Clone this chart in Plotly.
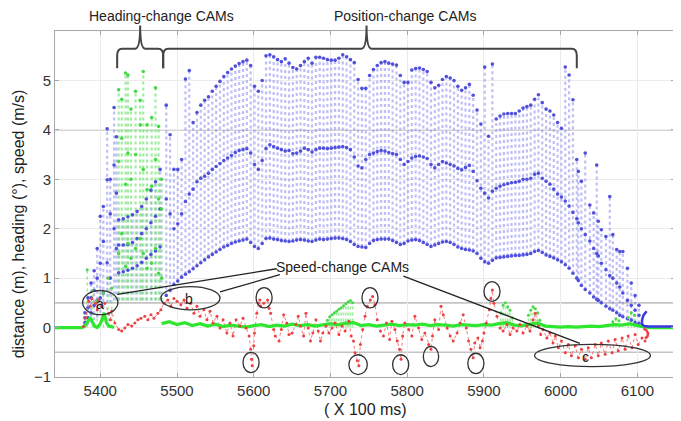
import plotly.graph_objects as go

# ---------------- data ----------------
# position-change CAMs (blue): sample positions and three distance levels
pos_x = list(range(5486, 6022, 5))
pos_top = [4.50, 3.90, 3.20, 3.20, 3.40, 5.03, 5.20, 4.15, 4.35, 4.50,
           4.60, 4.67, 4.78, 4.88, 4.98, 5.08, 5.16, 5.23, 5.29, 5.34,
           5.38, 5.41, 5.30, 4.88, 4.78, 5.00, 5.50, 5.52, 5.48, 5.42,
           5.38, 5.44, 5.35, 5.26, 5.23, 5.30, 5.38, 5.45, 5.35, 5.47,
           5.47, 5.45, 5.42, 5.41, 5.41, 5.45, 5.52, 5.48, 5.42, 5.36,
           5.02, 4.84, 4.84, 5.10, 5.22, 5.30, 5.36, 5.38, 5.35, 5.33,
           5.31, 5.10, 4.96, 4.96, 5.21, 5.24, 5.25, 5.22, 5.18, 4.96,
           4.85, 4.90, 5.02, 5.08, 5.05, 5.00, 4.88, 4.80, 4.85, 4.92,
           4.70, 4.40, 4.12, 5.27, 3.87, 5.33, 4.22, 4.28, 4.32, 4.33,
           4.33, 4.33, 4.38, 4.44, 4.47, 4.50, 4.62, 4.71, 4.55, 4.42,
           4.38, 4.30, 4.15, 4.03, 5.27, 5.11, 4.61, 3.40]
pos_mid = [2.60, 2.30, 2.00, 2.10, 2.30, 2.55, 2.70, 2.80, 2.95, 3.02,
           3.06, 3.12, 3.20, 3.26, 3.32, 3.38, 3.43, 3.48, 3.54, 3.58,
           3.60, 3.62, 3.53, 3.30, 3.20, 3.38, 3.62, 3.70, 3.66, 3.63,
           3.60, 3.57, 3.58, 3.52, 3.53, 3.57, 3.63, 3.60, 3.55, 3.60,
           3.63, 3.63, 3.62, 3.63, 3.64, 3.65, 3.66, 3.64, 3.60, 3.45,
           3.27, 3.23, 3.40, 3.50, 3.53, 3.56, 3.58, 3.57, 3.54, 3.52,
           3.50, 3.40, 3.30, 3.36, 3.43, 3.46, 3.47, 3.45, 3.42, 3.30,
           3.23, 3.30, 3.36, 3.33, 3.30, 3.27, 3.22, 3.19, 3.24, 3.28,
           3.16, 2.97, 2.82, 2.72, 2.62, 2.76, 2.82, 2.86, 2.89, 2.91,
           2.93, 2.94, 2.96, 3.00, 3.00, 3.02, 3.10, 3.12, 3.02, 2.96,
           2.90, 2.80, 2.70, 2.64, 2.56, 2.46, 2.33, 2.20]
pos_bot = [0.65, 0.75, 0.87, 0.94, 1.02, 1.08, 1.13, 1.19, 1.25, 1.31,
           1.37, 1.43, 1.48, 1.53, 1.58, 1.63, 1.66, 1.70, 1.73, 1.75,
           1.77, 1.79, 1.72, 1.64, 1.60, 1.70, 1.80, 1.81, 1.79, 1.78,
           1.76, 1.75, 1.74, 1.75, 1.77, 1.78, 1.77, 1.75, 1.74, 1.77,
           1.79, 1.78, 1.79, 1.80, 1.81, 1.81, 1.80, 1.78, 1.74, 1.68,
           1.64, 1.63, 1.62, 1.70, 1.76, 1.78, 1.79, 1.79, 1.79, 1.76,
           1.72, 1.68, 1.70, 1.75, 1.77, 1.78, 1.76, 1.72, 1.68, 1.64,
           1.67, 1.70, 1.73, 1.74, 1.72, 1.68, 1.63, 1.60, 1.58, 1.57,
           1.55, 1.50, 1.40, 1.33, 1.30, 1.36, 1.41, 1.42, 1.43, 1.44,
           1.45, 1.46, 1.46, 1.47, 1.48, 1.50, 1.54, 1.56, 1.52, 1.47,
           1.44, 1.41, 1.37, 1.33, 1.27, 1.20, 1.10, 1.00]

# tail of the run (blue, after the position-change bracket)
tail_x = [6023, 6027, 6032, 6038, 6043, 6047, 6049, 6053, 6059, 6064,
          6068, 6073, 6077, 6081, 6087, 6092, 6097, 6102]
tail_top = [3.16, 2.96, 3.53, 2.48, 2.32, 3.29, 2.15, 1.98, 1.84, 2.65,
            1.88, 1.58, 1.54, 1.54, 1.20, 0.90, 0.65, 0.45]
tail_mid = [2.12, 2.00, 1.88, 1.75, 1.60, 1.50, 1.45, 1.30, 1.17, 1.05,
            1.00, 0.90, 0.82, 0.70, 0.55, 0.45, 0.35, 0.25]
tail_bot = [0.95, 0.85, 0.77, 0.70, 0.62, 0.57, 0.55, 0.50, 0.43, 0.38,
            0.35, 0.30, 0.25, 0.22, 0.18, 0.15, 0.10, 0.08]

# start of the run (blue)
early_x = [5380, 5384, 5388, 5392, 5396, 5400, 5404, 5409, 5413, 5418, 5421]
early_top = [0.30, 0.60, 0.90, 1.15, 1.60, 2.25, 2.45, 4.02, 3.00, 4.45, 3.86]
early_mid = [0.20, 0.40, 0.60, 0.75, 1.00, 1.30, 1.74, 2.99, 2.30, 3.29, 2.72]
early_low = [0.10, 0.20, 0.30, 0.45, 0.55, 0.60, 0.70, 1.31, 1.00, 2.00, 1.60]
early_base = [0.02, 0.05, 0.10, 0.15, 0.20, 0.30, 0.40, 0.50, 0.50, 0.55, 0.55]

# heading-change CAMs (green) and blue distances inside that window
head_x = [5424, 5428, 5433, 5436, 5440, 5446, 5452, 5456, 5461, 5467, 5472, 5476, 5480]
head_top = [4.81, 4.62, 5.15, 5.11, 4.42, 4.78, 4.60, 5.18, 4.10, 4.25, 4.85, 4.07, 3.00]
head_mid = [3.36, 3.83, 2.90, 3.53, 3.00, 3.50, 4.10, 3.20, 2.79, 2.86, 3.40, 2.60, 2.40]
head_low = [1.50, 1.90, 1.24, 1.70, 1.40, 1.60, 1.80, 1.50, 1.20, 1.30, 1.60, 1.10, 1.00]
head_base = [0.55] * 13
hb_x = [5424, 5430, 5436, 5442, 5448, 5454, 5460, 5466, 5472, 5478]
hb_a = [2.18, 2.20, 2.24, 2.28, 2.35, 2.45, 2.60, 2.78, 2.95, 3.20]
hb_b = [1.67, 1.67, 1.68, 1.72, 1.80, 1.90, 2.00, 2.12, 2.25, 2.40]
hb_c = [1.11, 1.13, 1.16, 1.20, 1.25, 1.32, 1.40, 1.48, 1.55, 1.63]
hb_base = [0.55] * 10

# heading (green) near zero
gl_x = [5341, 5376, 5380, 5384, 5387, 5390, 5393, 5396, 5399, 5402, 5405,
        5408, 5411, 5414, 5418, None] + list(range(5480, 6151, 10))
gl_y = [0.00, 0.00, 0.03, 0.12, 0.20, 0.10, 0.02, 0.00, 0.05, 0.15, 0.30,
        0.10, 0.03, 0.02, 0.00, None,
        0.08, 0.12, 0.06, 0.10, 0.04, 0.08, 0.03, 0.07, 0.02, 0.05,
        0.03, 0.01, 0.04, 0.06, 0.02, 0.05, 0.03, 0.07, 0.04, 0.06,
        0.03, 0.05, 0.08, 0.06, 0.09, 0.10, 0.04, 0.06, 0.03, 0.05,
        0.07, 0.04, 0.06, 0.05, 0.07, 0.04, 0.06, 0.05, 0.03, 0.06,
        0.05, 0.04, 0.06, 0.05, 0.08, 0.10, 0.05, 0.04, 0.07, 0.09,
        0.03, 0.02, 0.01, 0.02, 0.01, 0.02, 0.03, 0.02, 0.04, 0.06,
        0.05, 0.08, 0.04, 0.01, 0.00, 0.00, 0.00, 0.00]
gs_x = [5383, 5390, 5396, 5404, 5410, 5415,
        5696, 5699, 5702, 5705, 5708, 5711, 5714, 5717, 5720, 5723, 5726, 5729,
        5922, 5925, 5928, 5931, 5934, 5937,
        5958, 5961, 5964, 5967, 5970, 5973,
        6068, 6072, 6076, 6088, 6092, 6096]
gs_top = [1.17, 0.75, 0.55, 0.70, 1.00, 0.80,
          0.15, 0.22, 0.26, 0.30, 0.33, 0.37, 0.40, 0.44, 0.48, 0.52, 0.55, 0.50,
          0.30, 0.45, 0.50, 0.42, 0.35, 0.20,
          0.25, 0.35, 0.42, 0.38, 0.30, 0.15,
          0.12, 0.18, 0.14, 0.20, 0.30, 0.25]

# speed (red)
red_x = [5378, 5381, 5385, 5387, 5389, 5394, 5396, 5398, 5402, 5406, 5411, 5413, 5415,
         5419, 5424, 5428, 5432, 5436, 5441, 5445, 5449, 5453, 5458, 5462, 5466, 5470, 5475, 5479,
         5483, 5488, 5492, 5496, 5500, 5505, 5509, 5513, 5518, 5522, 5526, 5530, 5535, 5539, 5543, 5547,
         5552, 5556, 5560, 5565, 5569, 5573, 5577, 5582, 5586, 5590,
         5594, 5596, 5597, 5598, 5600, 5601, 5604, 5606, 5608, 5609,
         5613, 5618, 5620, 5622, 5626, 5628, 5633, 5636, 5639, 5643, 5646, 5650, 5655, 5658, 5661,
         5665, 5668, 5671, 5674, 5677, 5681, 5684, 5687, 5690, 5694, 5698, 5702, 5706, 5711, 5715,
         5719, 5724, 5727, 5730, 5732, 5735, 5737, 5739, 5742, 5745, 5748, 5752, 5755, 5758, 5761,
         5765, 5769, 5773, 5777, 5780, 5784, 5787, 5790, 5792, 5794, 5797, 5802, 5806, 5810, 5815,
         5819, 5823, 5828, 5831, 5833, 5836, 5841, 5844, 5847, 5852, 5856, 5860, 5865, 5869, 5873, 5877,
         5880, 5883, 5886, 5888, 5892, 5895, 5898, 5900, 5903, 5907, 5909, 5911, 5913, 5917, 5921,
         5925, 5930, 5934, 5938, 5943, 5947, 5951, 5956, 5960, 5964, 5967, 5971, 5974, 5977, 5982,
         5986, 5990, 5993, 5997, 6001, 6006, 6010, 6014, 6019, 6023, 6027, 6032, 6036, 6040, 6045,
         6049, 6053, 6058, 6062, 6067, 6071, 6075, 6080, 6084, 6088, 6093, 6097, 6101, 6106, 6110]
red_y = [0.02, 0.20, 0.53, 0.43, 0.59, 0.49, 0.36, 0.56, 0.43, 0.49, 0.29, 0.16, 0.33,
         0.09, -0.04, -0.07, -0.01, 0.06, 0.03, 0.09, 0.16, 0.19, 0.23, 0.16, 0.26, 0.19, 0.29, 0.36,
         0.49, 0.56, 0.43, 0.59, 0.53, 0.46, 0.56, 0.39, 0.49, 0.29, 0.43, 0.23, 0.36, 0.16, 0.33, 0.09,
         0.23, -0.01, 0.16, -0.11, 0.09, -0.17, 0.16, 0.03, 0.19, -0.01,
         -0.17, -0.44, -0.64, -0.77, -0.37, -0.11, 0.29, 0.49, 0.56, 0.43,
         0.49, 0.56, 0.39, 0.29, -0.04, -0.17, -0.27, -0.04, 0.26, 0.09, -0.14, -0.11, 0.06, 0.23, 0.03,
         -0.17, 0.29, -0.01, -0.27, -0.11, 0.16, -0.07, -0.27, -0.11, 0.03, -0.11, -0.01, 0.09, -0.14, 0.03,
         -0.07, 0.13, -0.17, -0.27, -0.51, -0.67, -0.77, -0.34, -0.04, 0.23, 0.43, 0.56, 0.63, 0.46, 0.16,
         -0.07, -0.17, 0.09, -0.24, 0.13, -0.04, -0.27, -0.44, -0.64, -0.17, 0.09, -0.04, -0.17, 0.23, -0.01,
         -0.24, -0.11, -0.34, -0.44, -0.17, 0.16, -0.04, 0.43, 0.26, -0.01, -0.17, -0.27, -0.11, 0.09, 0.26, -0.01,
         -0.27, -0.44, -0.61, -0.31, -0.21, -0.41, -0.27, -0.11, 0.09, 0.36, 0.59, 0.76, 0.49, 0.23, -0.01,
         -0.07, 0.06, -0.14, -0.01, -0.07, 0.06, -0.11, 0.03, -0.07, 0.16, 0.29, 0.03, -0.14, -0.04, -0.21,
         -0.11, -0.31, -0.17, -0.41, -0.27, -0.51, -0.34, -0.57, -0.37, -0.61, -0.44, -0.64, -0.41, -0.61, -0.34,
         -0.57, -0.31, -0.54, -0.27, -0.51, -0.24, -0.47, -0.21, -0.44, -0.17, -0.41, -0.14, -0.34, -0.21, -0.27]

# end hooks
bh_x = [6112, 6108, 6106, 6106, 6109, 6114, 6150]
bh_y = [0.33, 0.25, 0.15, 0.07, 0.03, 0.02, 0.02]
rh_x = [6108, 6112, 6114, 6113, 6110]
rh_y = [-0.02, -0.06, -0.12, -0.18, -0.22]

# thresholds
thr_heading = 4.0
thr_speed = [0.5, -0.5]

x_ticks = [5400, 5500, 5600, 5700, 5800, 5900, 6000, 6100]
y_ticks = [-1, 0, 1, 2, 3, 4, 5]
XR = [5341, 6149]
YR = [-1, 6]

# ---------------- styling helpers ----------------
BLUE = "#5050dc"
BLUE_STEM = "rgba(128,128,240,0.5)"
GREEN = "#46d846"
GREEN_STEM = "rgba(110,226,110,0.65)"
RED = "#ee4040"
FONT = "Liberation Sans, Arial, sans-serif"


def stems(xs, lo, hi):
    X, Y = [], []
    for x, a, b in zip(xs, lo, hi):
        X += [x, x, None]
        Y += [a, b, None]
    return X, Y


fig = go.Figure()


def add_stems(xs, lo, hi, color, width=2.2):
    X, Y = stems(xs, lo, hi)
    fig.add_trace(go.Scatter(x=X, y=Y, mode="lines",
                             line=dict(color=color, width=width, dash="dot"),
                             hoverinfo="skip", showlegend=False))


def add_marks(xs, ys, color, size=3.6):
    fig.add_trace(go.Scatter(x=xs, y=ys, mode="markers",
                             marker=dict(color=color, size=size),
                             hoverinfo="skip", showlegend=False))


# blue stems
add_stems(early_x, early_base, early_top, BLUE_STEM)
add_stems(hb_x, hb_base, hb_a, BLUE_STEM)
add_stems(pos_x, pos_bot, pos_top, BLUE_STEM)
add_stems(tail_x, tail_bot, tail_top, BLUE_STEM)
# green heading stems
add_stems(head_x, head_base, head_top, GREEN_STEM)
add_stems(gs_x, [0] * len(gs_x), gs_top, GREEN_STEM, 1.6)

# blue markers
for ys in (early_top, early_mid, early_low):
    add_marks(early_x, ys, BLUE)
for ys in (hb_a, hb_b, hb_c):
    add_marks(hb_x, ys, BLUE)
for ys in (pos_top, pos_mid, pos_bot):
    add_marks(pos_x, ys, BLUE)
for ys in (tail_top, tail_mid, tail_bot):
    add_marks(tail_x, ys, BLUE)
# green markers
for ys in (head_top, head_mid, head_low):
    add_marks(head_x, ys, GREEN)
add_marks(gs_x, gs_top, GREEN, 3)

# red speed: dotted connections, green heading line, red markers
fig.add_trace(go.Scatter(x=red_x, y=red_y, mode="lines",
                         line=dict(color="rgba(238,70,70,0.7)", width=1, dash="dot"),
                         hoverinfo="skip", showlegend=False))
fig.add_trace(go.Scatter(x=gl_x, y=gl_y, mode="lines",
                         line=dict(color="#2ee62e", width=3.2),
                         hoverinfo="skip", showlegend=False))
add_marks(red_x, red_y, RED, 3)
fig.add_trace(go.Scatter(x=bh_x, y=bh_y, mode="lines",
                         line=dict(color="#3a3ae0", width=2.5),
                         hoverinfo="skip", showlegend=False))
fig.add_trace(go.Scatter(x=rh_x, y=rh_y, mode="lines",
                         line=dict(color=RED, width=2.5),
                         hoverinfo="skip", showlegend=False))

# threshold lines
fig.add_shape(type="line", xref="paper", x0=0, x1=1, yref="y",
              y0=thr_heading, y1=thr_heading, line=dict(color="#8a8a8a", width=1), layer="below")
for t in thr_speed:
    fig.add_shape(type="line", xref="paper", x0=0, x1=1, yref="y",
                  y0=t, y1=t, line=dict(color="#c4c4c4", width=1.6), layer="below")


# ---------------- annotations ----------------
def px_(x):
    return (x - XR[0]) / (XR[1] - XR[0])


def brace(xa, xp, xb, y_end, y_h, y_peak, r=0.008, rv=0.02):
    a, p, b = px_(xa), px_(xp), px_(xb)
    return (f"M {a},{y_end} L {a},{y_h - rv} Q {a},{y_h} {a + r},{y_h} "
            f"L {p - r},{y_h} Q {p},{y_h} {p},{y_peak} "
            f"Q {p},{y_h} {p + r},{y_h} L {b - r},{y_h} Q {b},{y_h} {b},{y_h - rv} L {b},{y_end}")


BR_COL = "#444444"
fig.add_shape(type="path", xref="paper", yref="paper",
              path=brace(5422, 5452, 5482, 0.892, 0.949, 1.016),
              line=dict(color=BR_COL, width=2))
fig.add_shape(type="path", xref="paper", yref="paper",
              path=brace(5482, 5747, 6021, 0.892, 0.949, 1.016, r=0.008),
              line=dict(color=BR_COL, width=2))

fig.add_annotation(x=5480, xref="x", y=1.042, yref="paper", text="Heading-change CAMs",
                   showarrow=False, xanchor="center", yanchor="middle",
                   font=dict(family=FONT, size=14, color="#222"))
fig.add_annotation(x=5797, xref="x", y=1.042, yref="paper", text="Position-change CAMs",
                   showarrow=False, xanchor="center", yanchor="middle",
                   font=dict(family=FONT, size=14, color="#222"))
fig.add_annotation(x=5716, y=1.23, text="Speed-change CAMs", showarrow=False,
                   xanchor="center", yanchor="middle",
                   font=dict(family=FONT, size=14, color="#222"))

# leader lines from the Speed-change label
for (x0, y0, x1, y1) in [(5630, 1.19, 5422, 0.67), (5634, 1.07, 5556, 0.72),
                         (5795, 1.04, 6025, -0.32)]:
    fig.add_shape(type="line", x0=x0, y0=y0, x1=x1, y1=y1,
                  line=dict(color="#222", width=1.3))

# ellipses a, b, c and small circles
for (x0, x1, y0, y1) in [(5377, 5423, 0.26, 0.75), (5479, 5556, 0.36, 0.83),
                         (5966, 6117, -0.79, -0.34),
                         (5603, 5624, 0.40, 0.81), (5586, 5607, -0.91, -0.50),
                         (5724, 5748, -0.95, -0.55), (5741, 5762, 0.40, 0.81),
                         (5781, 5802, -0.95, -0.55), (5821, 5841, -0.79, -0.38),
                         (5879, 5900, -0.93, -0.52), (5900, 5921, 0.53, 0.93)]:
    fig.add_shape(type="circle", x0=x0, x1=x1, y0=y0, y1=y1,
                  line=dict(color="#333", width=1.3))
for (x, y, t) in [(5400, 0.47, "a"), (5515, 0.58, "b"), (6033, -0.6, "c")]:
    fig.add_annotation(x=x, y=y, text=t, showarrow=False, xanchor="center", yanchor="middle",
                       font=dict(family=FONT, size=14, color="#222"))

# axis titles
fig.add_annotation(x=-0.0597, xref="paper", y=0.444, yref="paper",
                   text="distance (m), heading (°), speed (m/s)", textangle=-90,
                   showarrow=False, xanchor="center", yanchor="middle",
                   font=dict(family=FONT, size=16, color="#222"))
fig.add_annotation(x=0.5, xref="paper", y=-0.095, yref="paper",
                   text="( X 100 ms)", showarrow=False, xanchor="center", yanchor="middle",
                   font=dict(family=FONT, size=16, color="#222"))

# page body has an 8px margin: figure is 8px smaller so the plot lands where the reference has it
fig.update_layout(
    width=673, height=413,
    margin=dict(l=47, r=6, t=23, b=44),
    paper_bgcolor="white", plot_bgcolor="white",
    showlegend=False,
    xaxis=dict(range=XR, tickvals=x_ticks, showgrid=True, gridcolor="#ebebeb",
               zeroline=False, showline=True, linecolor="#a8a8a8", mirror="ticks",
               ticks="inside", ticklen=4, tickcolor="#a8a8a8",
               tickfont=dict(family=FONT, size=15, color="#333")),
    yaxis=dict(range=YR, tickvals=y_ticks, showgrid=True, gridcolor="#ebebeb",
               zeroline=False, showline=True, linecolor="#a8a8a8", mirror="ticks",
               ticks="inside", ticklen=4, tickcolor="#a8a8a8",
               tickfont=dict(family=FONT, size=15, color="#333")),
)

fig.write_html("out.html")
